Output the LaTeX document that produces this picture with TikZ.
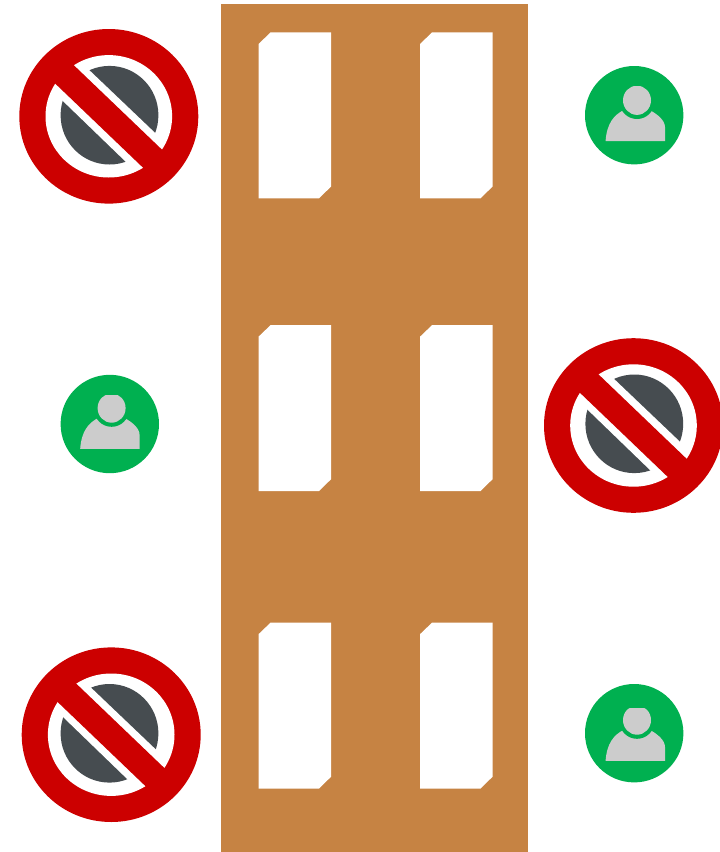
\documentclass[tikz,border=0pt]{standalone}
\definecolor{wood}{HTML}{C68343}
\definecolor{signred}{HTML}{CC0000}
\definecolor{signdark}{HTML}{464C50}
\definecolor{usergreen}{HTML}{00B050}
\definecolor{usergray}{HTML}{CCCCCC}
\tikzset{
  x=1pt,y=-1pt,
  pics/nosign/.style n args={4}{code={
    % #1,#2: offset of the dark disc; #3,#4: offset of the white band
    \fill[signred] (0,0) ellipse [x radius=89.5,y radius=87.3];
    \fill[white] (0,0) ellipse [x radius=63.3,y radius=61.2];
    \fill[signdark] (#1,#2) ellipse [x radius=48.9,y radius=49.3];
    \fill[white] (-23.3+#3,-49.8+#4) -- (50.3+#3,20.4+#4) -- (21+#3,49.4+#4) -- (-50.6+#3,-19.8+#4) -- cycle;
    \fill[signred] (-38,-54) -- (57,37) -- (38,55) -- (-57,-36) -- cycle;
  }},
  pics/userbadge/.style n args={3}{code={
    % #1,#2: offset of the figure; #3: height of the cut across the head
    \fill[usergreen] (0,0) circle [radius=49.2];
    \fill[usergray] (-28.6+#1,25.8+#2) .. controls (-27.4+#1,8+#2) and (-20+#1,0+#2) .. (-11.5+#1,-4.6+#2)
      -- (16.5+#1,-4.6+#2) .. controls (23+#1,-1+#2) and (30.8+#1,5+#2) .. (30.8+#1,12+#2) -- (30.8+#1,25.8+#2) -- cycle;
    \fill[usergreen] (2.8+#1,-13.7+#2) circle [radius=17.5];
    \begin{scope}
      \clip (-20,#3) rectangle (25,5);
      \fill[usergray] (2.8+#1,-14.9+#2) ellipse [x radius=14,y radius=14.6];
    \end{scope}
  }}
}
\newcommand{\windowpane}[2]{%
  \fill[white] (#1+12.2,#2) -- (#1+72.5,#2) -- (#1+72.5,#2+154.3) -- (#1+60.5,#2+166) -- (#1,#2+166) -- (#1,#2+11.7) -- cycle;}
\begin{document}
\begin{tikzpicture}
\useasboundingbox (0,0) rectangle (720,852);
\fill[white] (0,0) rectangle (720,852);
\fill[wood] (221,4) rectangle (528,852);
\windowpane{258.5}{32.3}
\windowpane{420}{32.3}
\windowpane{258.5}{325}
\windowpane{420}{325}
\windowpane{258.5}{622.5}
\windowpane{420}{622.5}
\begin{scope}
\clip (0,0) rectangle (720,852);
\pic at (108.8,116.3) {nosign={0.7}{-1.1}{0}{0}};
\pic at (633.5,425.5) {nosign={0.8}{-1.7}{0.3}{-0.2}};
\pic at (111.2,734.7) {nosign={-1.7}{-1.4}{-0.8}{-1}};
\pic at (634.2,115.2) {userbadge={0}{0}{-28.4}};
\pic at (109.8,424) {userbadge={-1}{-1}{-29}};
\pic at (634.2,733.2) {userbadge={0}{1.8}{-25.2}};
\end{scope}
\end{tikzpicture}
\end{document}
